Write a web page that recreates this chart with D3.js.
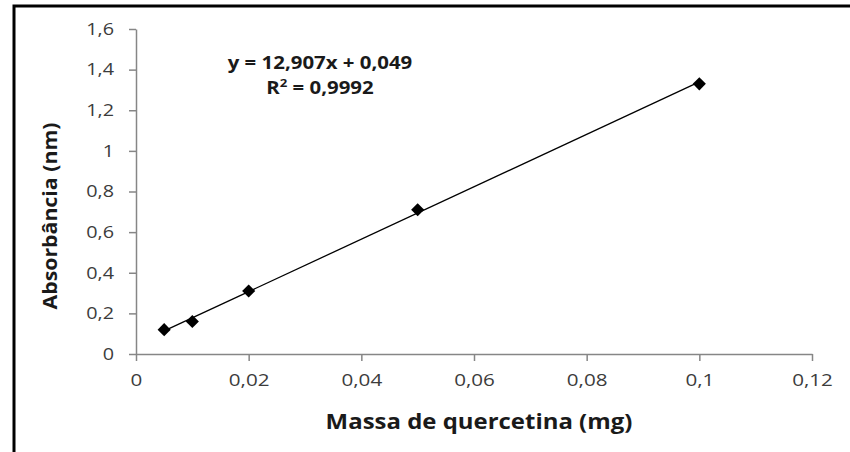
<!DOCTYPE html>
<html>
<head>
<meta charset="utf-8">
<script src="https://cdn.jsdelivr.net/npm/d3@7"></script>
<style>
  body { margin: 0; background: #fff; }
  svg { display: block; }
</style>
</head>
<body>
<svg id="chart" width="850" height="452"></svg>
<script>
// data
let massa = [0.005, 0.01, 0.02, 0.05, 0.1];
let absorbancia = [0.12, 0.16, 0.31, 0.71, 1.33];
let xTicks = [0, 0.02, 0.04, 0.06, 0.08, 0.1, 0.12];
let yTicks = [0, 0.2, 0.4, 0.6, 0.8, 1, 1.2, 1.4, 1.6];
let slope = 12.907, intercept = 0.049, r2 = 0.9992;

let svg = d3.select('#chart');
let font = '"Open Sans", sans-serif';

// the original text is a little wide, stretch it horizontally
let stretch = (sel, k) => {
    sel.each(function () {
        let w = this.getComputedTextLength();
        d3.select(this).attr('textLength', w * k).attr('lengthAdjust', 'spacingAndGlyphs');
    });
};

// outer frame
svg.append('rect')
    .attr('x', 14).attr('y', 6)
    .attr('width', 850).attr('height', 460)
    .attr('fill', 'none')
    .attr('stroke', '#000')
    .attr('stroke-width', 3);

let x = d3.scaleLinear().domain([0, 0.12]).range([136, 812]);
let y = d3.scaleLinear().domain([0, 1.6]).range([354, 29]);

let fmt = d => String(d).replace('.', ',');

let xAxis = svg.append('g')
    .attr('transform', 'translate(0,354)')
    .call(d3.axisBottom(x).tickValues(xTicks).tickFormat(fmt).tickSizeInner(7).tickSizeOuter(0).tickPadding(13));

let yAxis = svg.append('g')
    .attr('transform', 'translate(136,0)')
    .call(d3.axisLeft(y).tickValues(yTicks).tickFormat(fmt).tickSizeInner(7).tickSizeOuter(0).tickPadding(15));

[xAxis, yAxis].forEach(a => {
    a.select('.domain').attr('stroke', '#868686').attr('stroke-width', 1.5);
    a.selectAll('.tick line').attr('stroke', '#868686').attr('stroke-width', 1.5);
    a.selectAll('.tick text')
        .attr('fill', '#3c3c3c')
        .style('font-family', font)
        .style('font-size', '16.5px');
});
stretch(xAxis.selectAll('.tick text'), 1.25);
stretch(yAxis.selectAll('.tick text'), 1.2);

// linear trend line
let x0 = d3.min(massa), x1 = d3.max(massa);
svg.append('line')
    .attr('x1', x(x0)).attr('y1', y(slope * x0 + intercept))
    .attr('x2', x(x1)).attr('y2', y(slope * x1 + intercept))
    .attr('stroke', '#000')
    .attr('stroke-width', 1.3);

// diamond markers
let diamond = d3.symbol().type(d3.symbolDiamond2).size(110);
svg.selectAll('.pt')
    .data(massa)
  .enter().append('path')
    .attr('class', 'pt')
    .attr('transform', (d, i) => 'translate(' + x(d) + ',' + y(absorbancia[i]) + ')')
    .attr('d', diamond)
    .attr('fill', '#000');

// equation
let eq = svg.append('g')
    .style('font-family', font)
    .style('font-weight', 'bold')
    .style('font-size', '17px')
    .attr('fill', '#1a1a1a')
    .attr('text-anchor', 'middle');
eq.append('text')
    .attr('x', 320).attr('y', 69)
    .text('y = ' + fmt(slope) + 'x + ' + fmt(intercept));
let r2Text = eq.append('text')
    .attr('x', 320).attr('y', 94);
r2Text.append('tspan').text('R');
r2Text.append('tspan').attr('dy', -7).style('font-size', '11px').text('2');
r2Text.append('tspan').attr('dy', 7).text(' = ' + fmt(r2));
stretch(eq.selectAll('text'), 1.2);

// axis titles
let xTitle = svg.append('text')
    .attr('x', 479).attr('y', 429)
    .attr('text-anchor', 'middle')
    .style('font-family', font)
    .style('font-weight', 'bold')
    .style('font-size', '21px')
    .attr('fill', '#1a1a1a')
    .text('Massa de quercetina (mg)');
stretch(xTitle, 1.14);

let yTitle = svg.append('text')
    .attr('transform', 'translate(57,216) rotate(-90)')
    .attr('text-anchor', 'middle')
    .style('font-family', font)
    .style('font-weight', 'bold')
    .style('font-size', '19px')
    .attr('fill', '#1a1a1a')
    .text('Absorbância (nm)');
stretch(yTitle, 1.12);
</script>
</body>
</html>
